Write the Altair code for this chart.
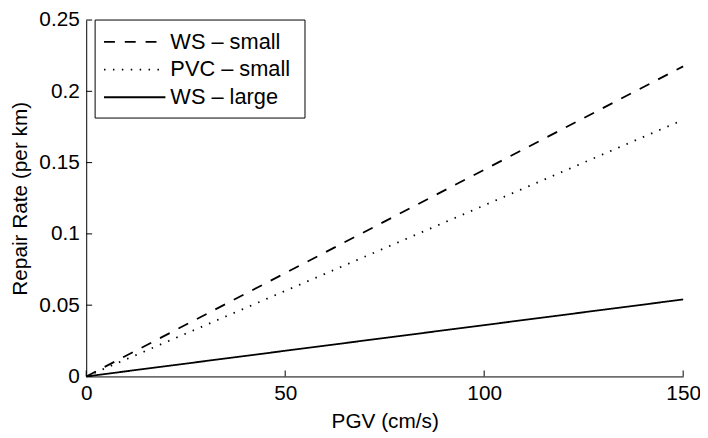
import altair as alt
import pandas as pd

# data
pgv = [0, 150]
ws_small = [0, 0.2175]
pvc_small = [0, 0.18]
ws_large = [0, 0.054]
series_names = ["WS – small", "PVC – small", "WS – large"]
x_ticks = [0, 50, 100, 150]
y_ticks = [0, 0.05, 0.1, 0.15, 0.2, 0.25]

rows = []
for name, vals in zip(series_names, [ws_small, pvc_small, ws_large]):
    for x, y in zip(pgv, vals):
        rows.append({"PGV": x, "Rate": y, "Series": name})
df = pd.DataFrame(rows)

FONT = "Liberation Sans"
FS = 21
W, H = 603, 360

xscale = alt.Scale(domain=[0, 150], nice=False, zero=False)
yscale = alt.Scale(domain=[0, 0.25], nice=False, zero=False)
dash_scale = alt.Scale(domain=series_names, range=[[11, 10], [1.5, 7.5], [1, 0]])

x_axis = alt.Axis(values=x_ticks, title="PGV (cm/s)", ticks=False, grid=False,
                  labelFontSize=FS, titleFontSize=FS, labelFont=FONT, titleFont=FONT,
                  labelColor="black", titleColor="black", domainColor="black",
                  labelPadding=6, titlePadding=8, titleFontWeight="normal",
                  labelFlush=False)
y_axis = alt.Axis(values=y_ticks, title="Repair Rate (per km)", ticks=False, grid=False,
                  labelFontSize=FS, titleFontSize=FS, labelFont=FONT, titleFont=FONT,
                  labelColor="black", titleColor="black", domainColor="black",
                  labelPadding=7, titlePadding=8, titleFontWeight="normal",
                  labelFlush=False, format="~g")

lines = alt.Chart(df).mark_line(color="black", strokeWidth=1.8).encode(
    x=alt.X("PGV:Q", scale=xscale, axis=x_axis),
    y=alt.Y("Rate:Q", scale=yscale, axis=y_axis),
    strokeDash=alt.StrokeDash("Series:N", scale=dash_scale, legend=None),
)

xt = pd.DataFrame({"v": x_ticks})
yt = pd.DataFrame({"v": y_ticks})
xtick_marks = alt.Chart(xt).mark_rule(color="black", strokeWidth=1).encode(
    x=alt.X("v:Q", scale=xscale), y=alt.value(H), y2=alt.value(H - 6))
ytick_marks = alt.Chart(yt).mark_rule(color="black", strokeWidth=1).encode(
    y=alt.Y("v:Q", scale=yscale), x=alt.value(0), x2=alt.value(6))

# legend (drawn by hand to match the boxed MATLAB legend)
box = alt.Chart(pd.DataFrame({"k": [0]})).mark_rect(
    fill="white", stroke="black", strokeWidth=1).encode(
    x=alt.value(9), x2=alt.value(221), y=alt.value(0), y2=alt.value(99))
legend_layers = [box]
row_y = [22, 50, 78]
for name, ry in zip(series_names, row_y):
    d = pd.DataFrame({"Series": [name]})
    legend_layers.append(
        alt.Chart(d).mark_rule(color="black", strokeWidth=1.8).encode(
            x=alt.value(18), x2=alt.value(80), y=alt.value(ry),
            strokeDash=alt.StrokeDash("Series:N", scale=dash_scale, legend=None)))
    legend_layers.append(
        alt.Chart(d).mark_text(align="left", baseline="middle", font=FONT,
                               fontSize=22, color="black").encode(
            x=alt.value(85), y=alt.value(ry), text="Series:N"))

chart = alt.layer(xtick_marks, ytick_marks, lines, *legend_layers).properties(
    width=W, height=H,
    autosize=alt.AutoSizeParams(type="none"),
    padding={"left": 79, "top": 10, "right": 17, "bottom": 58},
    background="white",
).configure_view(stroke=None)

chart.save("out.html", embed_options={"renderer": "svg", "actions": False})
